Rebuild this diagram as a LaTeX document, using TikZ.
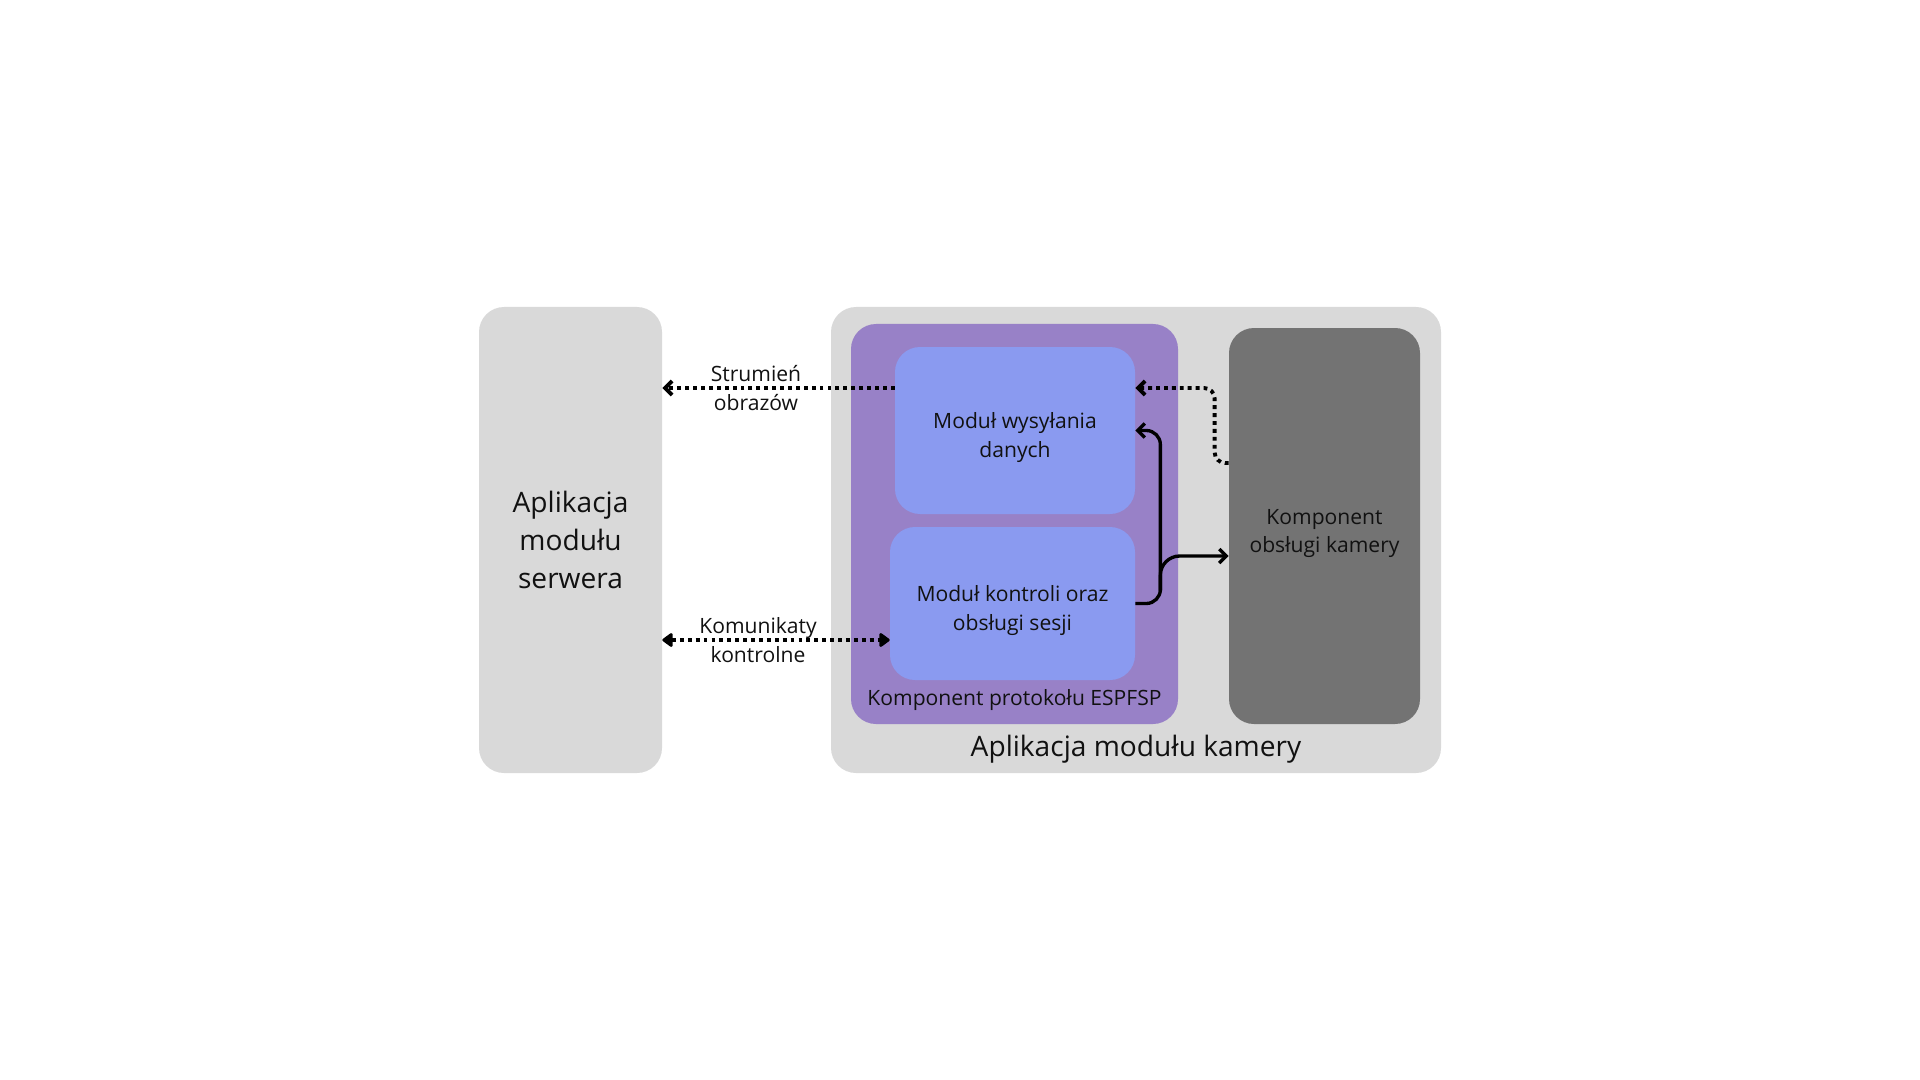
\documentclass[tikz,border=0pt]{standalone}
\usepackage{fontspec}
\setmainfont{Open Sans}
\usetikzlibrary{shapes,arrows.meta,calc,positioning}
\definecolor{jasnyszary}{HTML}{D9D9D9}
\definecolor{ciemnyszary}{HTML}{737373}
\definecolor{fiolet}{HTML}{9881C7}
\definecolor{niebieski}{HTML}{8A9AF0}
\definecolor{tekst}{HTML}{111111}
\tikzset{
    duzy/.style={font=\fontsize{16}{21.6}\selectfont},
    maly/.style={font=\fontsize{12}{16.5}\selectfont},
    blok/.style={
        rectangle,
        rounded corners=0.5cm,
        align=center,
        inner sep=0pt
    },
    opis/.style={
        label={[maly, align=center, text=tekst, yshift=-0.15cm]center:#1}
    },
    kropki/.style={
        line width=2.2pt,
        dash pattern=on 2.2pt off 2.3pt
    },
    linia/.style={line width=1.9pt},
    grot/.style={-{Straight Barb[length=4pt,width=8pt]}},
    grotpelny/.style={{Triangle[round,length=6.5pt,width=9pt]}-{Triangle[round,length=6.5pt,width=9pt]}}
}

\begin{document}
\begin{tikzpicture}[
        every node/.style={align=center, text=tekst},
    ]
    \useasboundingbox (0,0) rectangle (38.4,-21.6);

    % bloki
    \node[blok, duzy, fill=jasnyszary, minimum width=3.66cm, minimum height=9.32cm]
        (serwer) at (11.41,-10.8) {Aplikacja\\modułu\\serwera};
    \node[blok, fill=jasnyszary, minimum width=12.2cm, minimum height=9.32cm]
        (kamera) at (22.72,-10.8) {};
    \node[blok, fill=fiolet, minimum width=6.54cm, minimum height=8cm]
        (espfsp) at (20.29,-10.48) {};
    \node[blok, fill=niebieski, minimum width=4.8cm, minimum height=3.34cm,
        opis={Moduł wysyłania\\danych}]
        (wys) at (20.3,-8.61) {};
    \node[blok, fill=niebieski, minimum width=4.9cm, minimum height=3.06cm,
        opis={Moduł kontroli oraz\\obsługi sesji}]
        (ktrl) at (20.25,-12.07) {};
    \node[blok, fill=ciemnyszary, minimum width=3.82cm, minimum height=7.92cm,
        opis={Komponent\\obsługi kamery}]
        (kam) at (26.49,-10.52) {};

    \node[maly] (espfsp-opis) at ($(espfsp.south)+(0,0.48)$) {Komponent protokołu ESPFSP};
    \node[duzy] (kamera-opis) at ($(kamera.south)+(0,0.48)$) {Aplikacja modułu kamery};

    % polaczenia
    \coordinate (s) at ([yshift=0.85cm]wys.west);
    \coordinate (k) at ([yshift=-0.73cm]ktrl.west);
    \draw[kropki, grot] (s) -- (s -| serwer.east)
        node[maly, midway, xshift=-0.45cm] (strumien) {Strumień\\obrazów};
    \draw[kropki, grotpelny] (k -| serwer.east) -- (k)
        node[maly, midway, xshift=-0.36cm] (komunikaty) {Komunikaty\\kontrolne};
    \draw[kropki, grot, rounded corners=6pt]
        ([yshift=1.26cm]kam.west) -- ++(-0.28,0) |- ([yshift=0.85cm]wys.east);
    \draw[linia, grot, rounded corners=8pt]
        (ktrl.east) -- ++(0.5,0) |- (wys.east);
    \coordinate (rozg) at ($(ktrl.east)+(0.5,0.25)$);
    \draw[linia, grot, rounded corners=11pt]
        (rozg) |- ([yshift=-0.6cm]kam.west);
\end{tikzpicture}
\end{document}
